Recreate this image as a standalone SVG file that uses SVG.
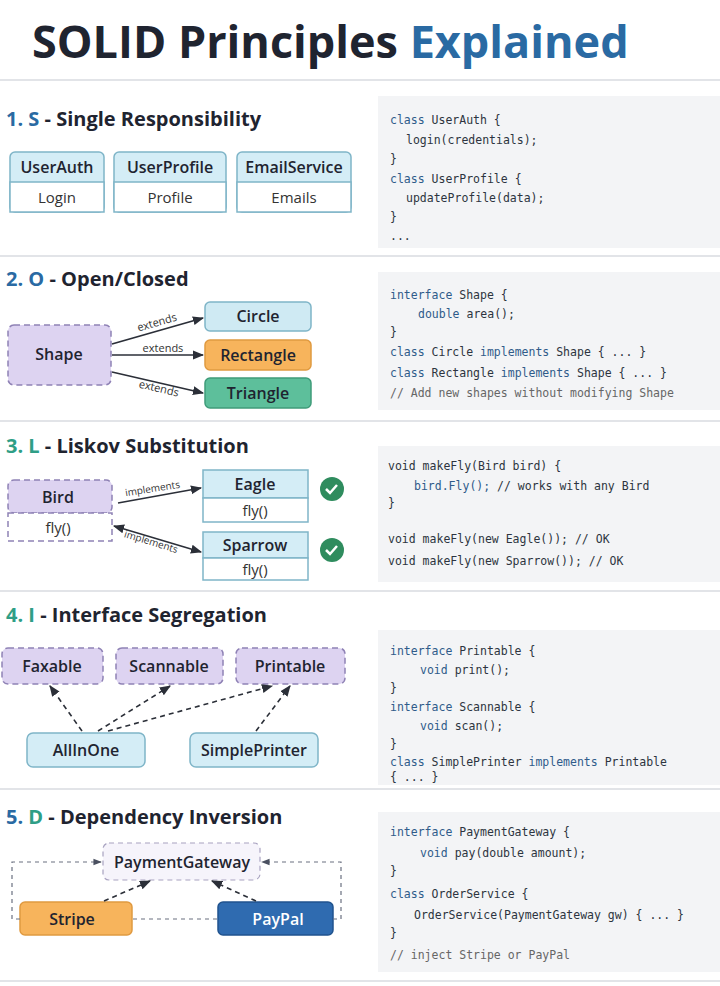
<svg xmlns="http://www.w3.org/2000/svg" width="720" height="986" viewBox="0 0 720 986">
<defs>
<marker id="ah" viewBox="0 0 10 10" refX="9" refY="5" markerWidth="7" markerHeight="7" orient="auto-start-reverse"><path d="M0,1 L10,5 L0,9 z" fill="#2b2f38"/></marker>
<marker id="ahg" viewBox="0 0 10 10" refX="9" refY="5" markerWidth="7" markerHeight="7" orient="auto-start-reverse"><path d="M0,1 L10,5 L0,9 z" fill="#4a5060"/></marker>
<style>
text{font-family:"Open Sans","Liberation Sans",sans-serif;fill:#1f2430}
.h{font-size:20px;font-weight:700}
.n{font-size:16px;font-weight:600;text-anchor:middle}
.s{font-size:15px;text-anchor:middle;fill:#333}
.c{font-family:"DejaVu Sans Mono","Liberation Mono",monospace;font-size:11.5px;fill:#2d3440}
.k{fill:#2f5b8a}
.panel{fill:#f3f4f6}
.div{stroke:#e2e4e8;stroke-width:2}
.blue{fill:#d4edf6;stroke:#7fb5c8;stroke-width:1.5}
.white{fill:#fff;stroke:#7fb5c8;stroke-width:1.5}
.purp{fill:#ddd3f1;stroke:#8f82b5;stroke-width:1.5;stroke-dasharray:6 4}
.pw{fill:#fff;stroke:#8f82b5;stroke-width:1.5;stroke-dasharray:6 4}
.ln{stroke:#2b2f38;stroke-width:1.6;fill:none}
.dl{stroke:#2b2f38;stroke-width:1.6;fill:none;stroke-dasharray:5 4}
.gl{stroke:#6a7080;stroke-width:1.2;fill:none;stroke-dasharray:4 4}
.lab{font-size:11px;fill:#333}
</style>
</defs>
<rect width="720" height="986" fill="#fff"/>
<text x="32" y="58" style="font-size:45px;font-weight:700">SOLID Principles <tspan fill="#2a6aa3">Explained</tspan></text>
<g class="divs">
<line class="div" x1="0" y1="80" x2="720" y2="80"/>
<line class="div" x1="0" y1="256" x2="720" y2="256"/>
<line class="div" x1="0" y1="421" x2="720" y2="421"/>
<line class="div" x1="0" y1="591" x2="720" y2="591"/>
<line class="div" x1="0" y1="789" x2="720" y2="789"/>
<line class="div" x1="0" y1="981" x2="720" y2="981"/>
</g>
<rect class="panel" x="378" y="96" width="342" height="152"/>
<rect class="panel" x="378" y="272" width="342" height="138"/>
<rect class="panel" x="378" y="446" width="342" height="136"/>
<rect class="panel" x="378" y="630" width="342" height="155"/>
<rect class="panel" x="378" y="812" width="342" height="160"/>
<!-- Section 1 -->
<text class="h" x="6" y="126"><tspan fill="#2a6aa3">1. S</tspan> - Single Responsibility</text>
<g id="userauth"><rect class="blue" x="10" y="152" width="94" height="60" rx="5"/><rect class="white" x="10" y="182" width="94" height="30"/><text class="n" x="57" y="173">UserAuth</text><text class="s" x="57" y="203">Login</text></g>
<g id="userprofile"><rect class="blue" x="114" y="152" width="112" height="60" rx="5"/><rect class="white" x="114" y="182" width="112" height="30"/><text class="n" x="170" y="173">UserProfile</text><text class="s" x="170" y="203">Profile</text></g>
<g id="emailservice"><rect class="blue" x="237" y="152" width="114" height="60" rx="5"/><rect class="white" x="237" y="182" width="114" height="30"/><text class="n" x="294" y="173">EmailService</text><text class="s" x="294" y="203">Emails</text></g>
<g class="code1">
<text class="c" x="390" y="124"><tspan class="k">class</tspan> UserAuth {</text>
<text class="c" x="406" y="144">login(credentials);</text>
<text class="c" x="390" y="163">}</text>
<text class="c" x="390" y="183"><tspan class="k">class</tspan> UserProfile {</text>
<text class="c" x="406" y="202">updateProfile(data);</text>
<text class="c" x="390" y="221">}</text>
<text class="c" x="390" y="240">...</text>
</g>
<!-- Section 2 -->
<text class="h" x="6" y="286"><tspan fill="#2a6aa3">2. O</tspan> - Open/Closed</text>
<g id="shape"><rect class="purp" x="8" y="325" width="103" height="60" rx="6"/><text class="n" x="59" y="360">Shape</text></g>
<g id="circle"><rect x="205" y="302" width="106" height="29" rx="5" fill="#cfeaf3" stroke="#7fb5c8" stroke-width="1.5"/><text class="n" x="258" y="322">Circle</text></g>
<g id="rectangle"><rect x="205" y="340" width="106" height="30" rx="5" fill="#f7b45c" stroke="#e09a40" stroke-width="1.5"/><text class="n" x="258" y="361">Rectangle</text></g>
<g id="triangle"><rect x="205" y="378" width="106" height="30" rx="5" fill="#5dbf9b" stroke="#3f9c7a" stroke-width="1.5"/><text class="n" x="258" y="399">Triangle</text></g>
<g id="connectors2">
<line class="ln" x1="112" y1="344" x2="203" y2="318" marker-end="url(#ah)"/>
<line class="ln" x1="112" y1="355" x2="203" y2="355" marker-end="url(#ah)"/>
<line class="ln" x1="112" y1="372" x2="203" y2="393" marker-end="url(#ah)"/>
<text class="lab" x="158" y="326" text-anchor="middle" transform="rotate(-16 158 326)">extends</text>
<text class="lab" x="163" y="352" text-anchor="middle">extends</text>
<text class="lab" x="158" y="392" text-anchor="middle" transform="rotate(13 158 392)">extends</text>
</g>
<g class="code2">
<text class="c" x="390" y="299"><tspan class="k">interface</tspan> Shape {</text>
<text class="c" x="418" y="318"><tspan class="k">double</tspan> area();</text>
<text class="c" x="390" y="336">}</text>
<text class="c" x="390" y="356"><tspan class="k">class</tspan> Circle <tspan class="k">implements</tspan> Shape { ... }</text>
<text class="c" x="390" y="377"><tspan class="k">class</tspan> Rectangle <tspan class="k">implements</tspan> Shape { ... }</text>
<text class="c" x="390" y="397" style="fill:#666">// Add new shapes without modifying Shape</text>
</g>
<!-- Section 3 -->
<text class="h" x="6" y="453"><tspan fill="#2f9e86">3. L</tspan> - Liskov Substitution</text>
<g id="bird"><rect x="8" y="480" width="104" height="33" rx="6" class="purp"/><rect x="8" y="513" width="104" height="28" class="pw"/><text class="n" x="58" y="503">Bird</text><text class="s" x="58" y="533">fly()</text></g>
<g id="eagle"><rect class="blue" x="203" y="470" width="105" height="28"/><rect class="white" x="203" y="498" width="105" height="24"/><text class="n" x="255" y="490">Eagle</text><text class="s" x="255" y="516">fly()</text></g>
<g id="sparrow"><rect class="blue" x="203" y="532" width="105" height="26"/><rect class="white" x="203" y="558" width="105" height="22"/><text class="n" x="255" y="551">Sparrow</text><text class="s" x="255" y="575">fly()</text></g>
<g id="checks">
<circle cx="332" cy="489" r="12" fill="#2f8c5e"/><path d="M326,489 l4,4 l7,-8" stroke="#fff" stroke-width="2.5" fill="none"/>
<circle cx="332" cy="550" r="12" fill="#2f8c5e"/><path d="M326,550 l4,4 l7,-8" stroke="#fff" stroke-width="2.5" fill="none"/>
</g>
<g id="connectors3">
<line class="ln" x1="118" y1="503" x2="201" y2="488" marker-end="url(#ah)"/>
<line class="ln" x1="114" y1="526" x2="201" y2="552" marker-start="url(#ah)" marker-end="url(#ah)"/>
<text class="lab" x="153" y="492" text-anchor="middle" transform="rotate(-9 153 492)" style="font-size:10px">implements</text>
<text class="lab" x="150" y="545" text-anchor="middle" transform="rotate(17 150 545)" style="font-size:10px">implements</text>
</g>
<g class="code3">
<text class="c" x="388" y="470">void makeFly(Bird bird) {</text>
<text class="c" x="414" y="490"><tspan class="k">bird.Fly();</tspan> // works with any Bird</text>
<text class="c" x="388" y="507">}</text>
<text class="c" x="388" y="543">void makeFly(new Eagle());  // OK</text>
<text class="c" x="388" y="565">void makeFly(new Sparrow()); // OK</text>
</g>
<!-- Section 4 -->
<text class="h" x="6" y="622"><tspan fill="#2f9e86">4. I</tspan> - Interface Segregation</text>
<g id="faxable"><rect class="purp" x="2" y="648" width="101" height="36" rx="6"/><text class="n" x="52" y="672">Faxable</text></g>
<g id="scannable"><rect class="purp" x="116" y="648" width="107" height="36" rx="6"/><text class="n" x="169" y="672">Scannable</text></g>
<g id="printable"><rect class="purp" x="236" y="648" width="109" height="36" rx="6"/><text class="n" x="290" y="672">Printable</text></g>
<g id="allinone"><rect class="blue" x="27" y="733" width="118" height="34" rx="6"/><text class="n" x="86" y="756">AllInOne</text></g>
<g id="simpleprinter"><rect class="blue" x="190" y="733" width="128" height="34" rx="6"/><text class="n" x="254" y="756">SimplePrinter</text></g>
<g id="connectors4">
<line class="dl" x1="82" y1="731" x2="50" y2="686" marker-end="url(#ah)"/>
<line class="dl" x1="98" y1="731" x2="170" y2="686" marker-end="url(#ah)"/>
<line class="dl" x1="108" y1="731" x2="272" y2="686" marker-end="url(#ah)"/>
<line class="dl" x1="256" y1="731" x2="290" y2="686" marker-end="url(#ah)"/>
</g>
<g class="code4">
<text class="c" x="390" y="655"><tspan class="k">interface</tspan> Printable {</text>
<text class="c" x="420" y="674"><tspan class="k">void</tspan> print();</text>
<text class="c" x="390" y="692">}</text>
<text class="c" x="390" y="711"><tspan class="k">interface</tspan> Scannable {</text>
<text class="c" x="420" y="730"><tspan class="k">void</tspan> scan();</text>
<text class="c" x="390" y="748">}</text>
<text class="c" x="390" y="766"><tspan class="k">class</tspan> SimplePrinter <tspan class="k">implements</tspan> Printable</text>
<text class="c" x="390" y="781">{ ... }</text>
</g>
<!-- Section 5 -->
<text class="h" x="6" y="824"><tspan fill="#2a6aa3">5.</tspan> <tspan fill="#2f9e86">D</tspan> - Dependency Inversion</text>
<g id="paymentgateway"><rect x="103" y="843" width="157" height="37" rx="6" fill="#f6f4fb" stroke="#a8a2c0" stroke-width="1.2" stroke-dasharray="5 4"/><text class="n" x="182" y="868">PaymentGateway</text></g>
<g id="stripe"><rect x="20" y="902" width="112" height="33" rx="5" fill="#f7b45c" stroke="#e09a40" stroke-width="1.5"/><text class="n" x="72" y="925">Stripe</text></g>
<g id="paypal"><rect x="218" y="902" width="115" height="33" rx="5" fill="#2f6bb0" stroke="#20538e" stroke-width="1.5"/><text class="n" x="278" y="925" style="fill:#fff">PayPal</text></g>
<g id="connectors5">
<line class="dl" x1="104" y1="901" x2="150" y2="881" marker-end="url(#ah)"/>
<line class="dl" x1="256" y1="901" x2="212" y2="881" marker-end="url(#ah)"/>
<path class="gl" d="M20,919 H12 V862 H101" marker-end="url(#ahg)"/>
<path class="gl" d="M333,919 H341 V862 H262" marker-end="url(#ahg)"/>
<line class="gl" x1="133" y1="919" x2="217" y2="919"/>
</g>
<g class="code5">
<text class="c" x="390" y="836"><tspan class="k">interface</tspan> PaymentGateway {</text>
<text class="c" x="420" y="857"><tspan class="k">void</tspan> pay(double amount);</text>
<text class="c" x="390" y="875">}</text>
<text class="c" x="390" y="898"><tspan class="k">class</tspan> OrderService {</text>
<text class="c" x="414" y="919">OrderService(PaymentGateway gw) { ... }</text>
<text class="c" x="390" y="937">}</text>
<text class="c" x="390" y="959" style="fill:#666">// inject Stripe or PayPal</text>
</g>
</svg>
